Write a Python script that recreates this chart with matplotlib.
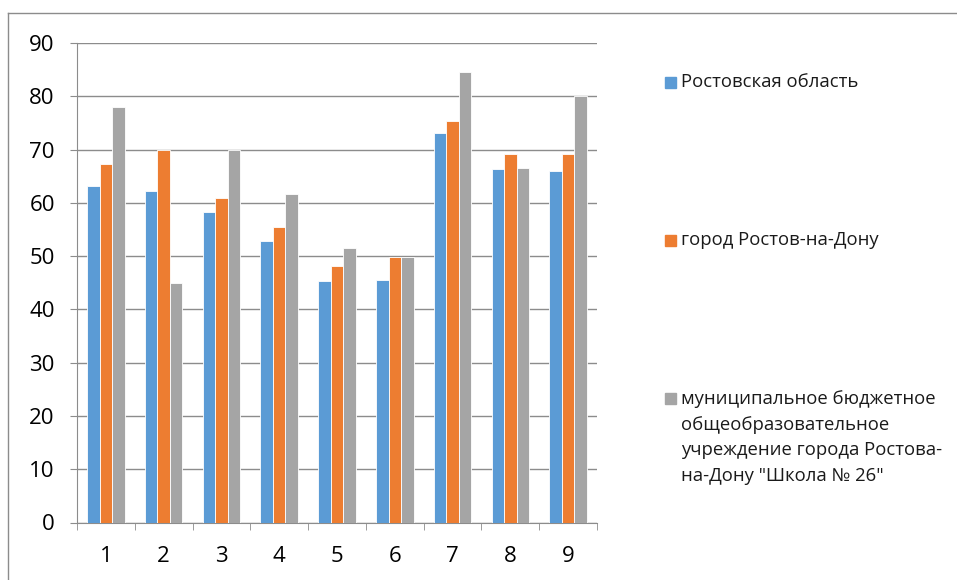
import numpy as np
import matplotlib
matplotlib.use('Agg')
import matplotlib.pyplot as plt
from matplotlib.patches import Rectangle
from matplotlib.lines import Line2D

# data
categories = ['1', '2', '3', '4', '5', '6', '7', '8', '9']
region = [63.2, 62.2, 58.3, 52.9, 45.3, 45.6, 73.1, 66.3, 66.0]
city = [67.3, 69.9, 61.0, 55.5, 48.2, 49.8, 75.3, 69.1, 69.2]
school = [78.0, 45.0, 70.0, 61.7, 51.5, 49.8, 84.6, 66.6, 80.0]
series_names = ['Ростовская область',
                'город Ростов-на-Дону',
                'муниципальное бюджетное\nобщеобразовательное\nучреждение города Ростова-\nна-Дону "Школа № 26"']
colors = ['#5B9BD5', '#ED7D31', '#A5A5A5']

plt.rcParams['font.family'] = ['Open Sans', 'DejaVu Sans']
grid_col = '#8C8C8C'

fig = plt.figure(figsize=(9.57, 5.80), dpi=100)
ax = fig.add_axes([77/957, 1 - 522.5/580, 520/957, 479.5/580])

x = np.arange(len(categories))
w = 0.217
for i, vals in enumerate([region, city, school]):
    ax.bar(x + (i - 1) * w, vals, width=w, color=colors[i], edgecolor='white',
           linewidth=0.6, zorder=3)

ax.set_xlim(-0.5, len(categories) - 0.5)
ax.set_ylim(0, 90)
ax.set_yticks(np.arange(0, 91, 10))
ax.set_xticks(x)
ax.set_xticklabels(categories)
ax.set_xticks(np.arange(-0.5, len(categories), 1), minor=True)

ax.grid(axis='y', color=grid_col, linewidth=1.0, zorder=0)
for s in ['top', 'right']:
    ax.spines[s].set_visible(False)
ax.spines['left'].set_color(grid_col)
ax.spines['bottom'].set_color(grid_col)
ax.tick_params(axis='y', length=5, color=grid_col, labelsize=16, pad=11, labelcolor='black')
ax.tick_params(axis='x', which='major', length=0, labelsize=16, pad=17, labelcolor='black')
ax.tick_params(axis='x', which='minor', length=5, color=grid_col)

# legend drawn by hand, placed like the reference
leg_y = [82, 240, 398]
for name, col, yy in zip(series_names, colors, leg_y):
    fig.add_artist(Rectangle((665/957, 1 - (yy + 5.5)/580), 11/957, 11/580,
                             transform=fig.transFigure, color=col))
    multi = '\n' in name
    fig.text(681/957, 1 - (yy - 8)/580 if multi else 1 - yy/580, name,
             fontsize=13.3, va='top' if multi else 'center',
             ha='left', linespacing=1.55, color='#1a1a1a',
             transform=fig.transFigure)

# outer chart border (top and left visible)
fig.add_artist(Line2D([8/957, 957/957], [1 - 13/580, 1 - 13/580], color=grid_col,
                      linewidth=1, transform=fig.transFigure))
fig.add_artist(Line2D([8/957, 8/957], [1 - 13/580, 0], color=grid_col,
                      linewidth=1, transform=fig.transFigure))

fig.savefig('out.png', dpi=100)
